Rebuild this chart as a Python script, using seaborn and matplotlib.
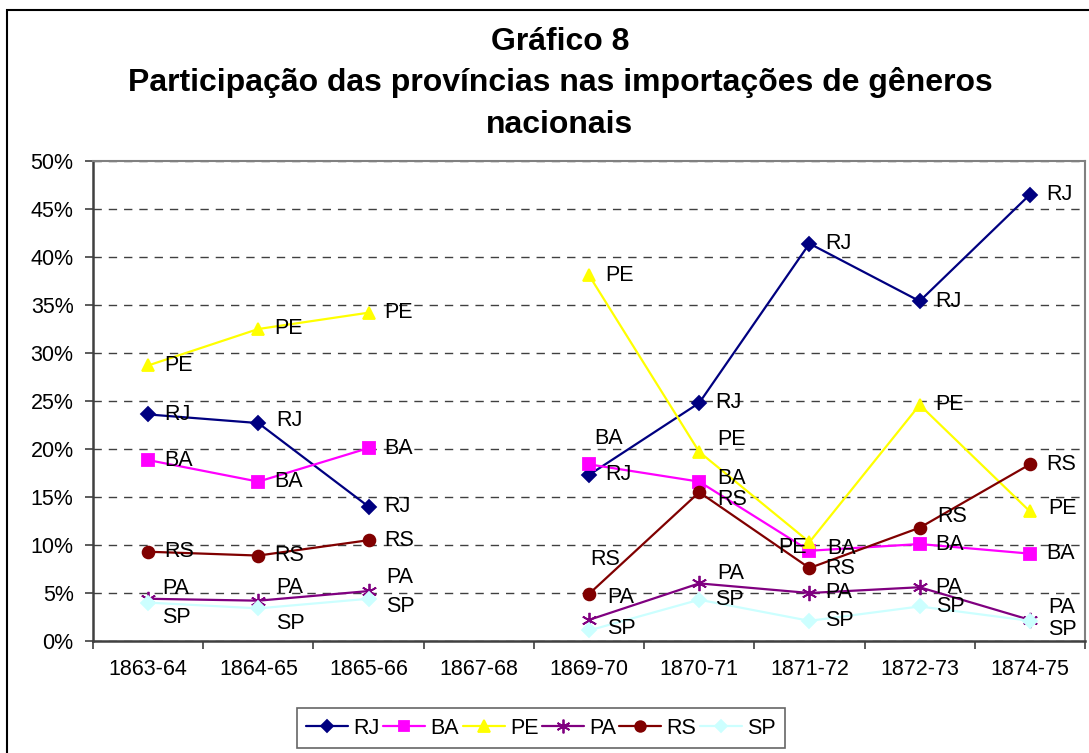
import numpy as np
import pandas as pd
import seaborn as sns
import matplotlib.pyplot as plt
from matplotlib.lines import Line2D
from matplotlib.patches import Rectangle
from matplotlib.ticker import FuncFormatter, MultipleLocator, FixedLocator

# Data (percent share); 1867-68 has no data
years = ["1863-64", "1864-65", "1865-66", "1867-68", "1869-70",
         "1870-71", "1871-72", "1872-73", "1874-75"]
provinces = ["RJ", "BA", "PE", "PA", "RS", "SP"]
rj = [23.6, 22.7, 14.0, np.nan, 17.3, 24.8, 41.4, 35.4, 46.5]
ba = [18.85, 16.6, 20.1, np.nan, 18.4, 16.6, 9.4, 10.1, 9.1]
pe = [28.7, 32.5, 34.2, np.nan, 38.1, 19.7, 10.3, 24.6, 13.5]
pa = [4.4, 4.2, 5.2, np.nan, 2.2, 6.0, 5.0, 5.6, 2.2]
rs = [9.3, 8.9, 10.5, np.nan, 4.9, 15.5, 7.6, 11.8, 18.4]
sp = [4.0, 3.4, 4.4, np.nan, 1.1, 4.3, 2.1, 3.6, 2.1]
values = {"RJ": rj, "BA": ba, "PE": pe, "PA": pa, "RS": rs, "SP": sp}

colors = {"RJ": "#000080", "BA": "#FF00FF", "PE": "#FFFF00",
          "PA": "#800080", "RS": "#800000", "SP": "#CCFFFF"}
markers = {"RJ": "D", "BA": "s", "PE": "^", "PA": (6, 2, 0), "RS": "o", "SP": "D"}
msizes = {"RJ": 7, "BA": 8, "PE": 9, "PA": 11, "RS": 8.5, "SP": 7}

# label offsets in pixels (dx, dy, ha); default is to the right of the point
default_off = (16, 0, "left")
label_off = {
    ("PA", 0): (14, 10, "left"), ("SP", 0): (14, -15, "left"),
    ("PA", 1): (18, 13, "left"), ("SP", 1): (18, -15, "left"),
    ("PA", 2): (18, 14, "left"), ("SP", 2): (18, -8, "left"),
    ("RJ", 1): (18, 3, "left"),
    ("BA", 4): (5, 26, "left"), ("RS", 4): (1, 34, "left"),
    ("PA", 4): (18, 22, "left"), ("SP", 4): (18, 2, "left"),
    ("PE", 5): (18, 12, "left"), ("RS", 5): (18, -7, "left"),
    ("BA", 5): (18, 3, "left"), ("PA", 5): (18, 10, "left"),
    ("PE", 6): (-3, -5, "right"), ("BA", 6): (18, 2, "left"),
    ("RS", 7): (18, 11, "left"),
    ("PA", 8): (18, 12, "left"), ("SP", 8): (18, -9, "left"),
    ("PE", 8): (18, 3, "left"),
}

# long table, split in two segments around the missing year
rows = []
for p in provinces:
    for i, v in enumerate(values[p]):
        if not np.isnan(v):
            rows.append({"x": i, "val": v, "prov": p, "seg": 0 if i < 3 else 1})
df = pd.DataFrame(rows)

sns.set_style("white")
plt.rcParams["font.family"] = ["Liberation Sans", "DejaVu Sans"]
plt.rcParams["text.color"] = "black"
plt.rcParams["xtick.color"] = "black"
plt.rcParams["ytick.color"] = "black"
fs = 15.5

fig = plt.figure(figsize=(10.89, 7.53), dpi=100)
ax = fig.add_axes([93 / 1089, 1 - 641 / 753, (1085 - 93) / 1089, (641 - 161) / 753])

for p in provinces:
    sub = df[df["prov"] == p]
    sns.lineplot(data=sub, x="x", y="val", units="seg", estimator=None,
                 color=colors[p], marker=markers[p], markersize=msizes[p],
                 markeredgecolor=colors[p], markerfacecolor=colors[p],
                 markeredgewidth=1.3, linewidth=1.6, legend=False, ax=ax)

# data labels
for p in provinces:
    for i, v in enumerate(values[p]):
        if np.isnan(v):
            continue
        dx, dy, ha = label_off.get((p, i), default_off)
        ax.annotate(p, (i, v), xytext=(dx, dy), textcoords="offset pixels",
                    ha=ha, va="center", fontsize=fs, color="black")

ax.set_xlim(-0.5, 8.5)
ax.set_ylim(0, 50)
ax.yaxis.set_major_locator(MultipleLocator(5))
ax.yaxis.set_major_formatter(FuncFormatter(lambda v, _: f"{v:.0f}%"))
ax.set_xticks(range(len(years)))
ax.set_xticklabels(years)
ax.xaxis.set_minor_locator(FixedLocator(np.arange(-0.5, 9, 1)))
ax.tick_params(axis="x", which="major", length=0, pad=13, labelsize=fs)
ax.tick_params(axis="x", which="minor", length=6, width=1.2, color="#404040",
               direction="out", bottom=True)
ax.tick_params(axis="y", length=6, width=1.2, color="#404040", direction="out",
               pad=8, labelsize=fs, left=True)
ax.set_xlabel("")
ax.set_ylabel("")
ax.grid(axis="y", linestyle=(0, (6, 5)), color="#404040", linewidth=1)
ax.grid(axis="x", visible=False)
ax.set_axisbelow(True)
for s in ["left", "bottom"]:
    ax.spines[s].set_color("#404040")
    ax.spines[s].set_linewidth(1.8)
for s in ["top", "right"]:
    ax.spines[s].set_color("#808080")
    ax.spines[s].set_linewidth(1.5)

# title
tx = 560 / 1089
for txt, yy in [("Gráfico 8", 42),
                ("Participação das províncias nas importações de gêneros", 83),
                ("nacionais", 125)]:
    fig.text(tx, 1 - yy / 753, txt, ha="center", va="center",
             fontsize=23, fontweight="bold", color="black")

# legend
handles = [Line2D([], [], color=colors[p], marker=markers[p], markersize=msizes[p] * 0.9,
                  markeredgecolor=colors[p], markerfacecolor=colors[p],
                  markeredgewidth=1.3, linewidth=1.6) for p in provinces]
leg = fig.legend(handles, provinces, loc="upper center",
                 bbox_to_anchor=(541 / 1089, 1 - 708 / 753), ncol=6,
                 fontsize=fs, frameon=True, fancybox=False, edgecolor="#404040",
                 handlelength=1.95, handletextpad=0.25, columnspacing=0.15,
                 borderpad=0.45, borderaxespad=0)
leg.get_frame().set_linewidth(1.2)

# outer chart border
fig.patches.append(Rectangle((7 / 1089, -0.1), 1.2, 1.1 - 10 / 753,
                             transform=fig.transFigure, fill=False,
                             edgecolor="black", linewidth=1.5))

fig.savefig("out.png", dpi=100)
